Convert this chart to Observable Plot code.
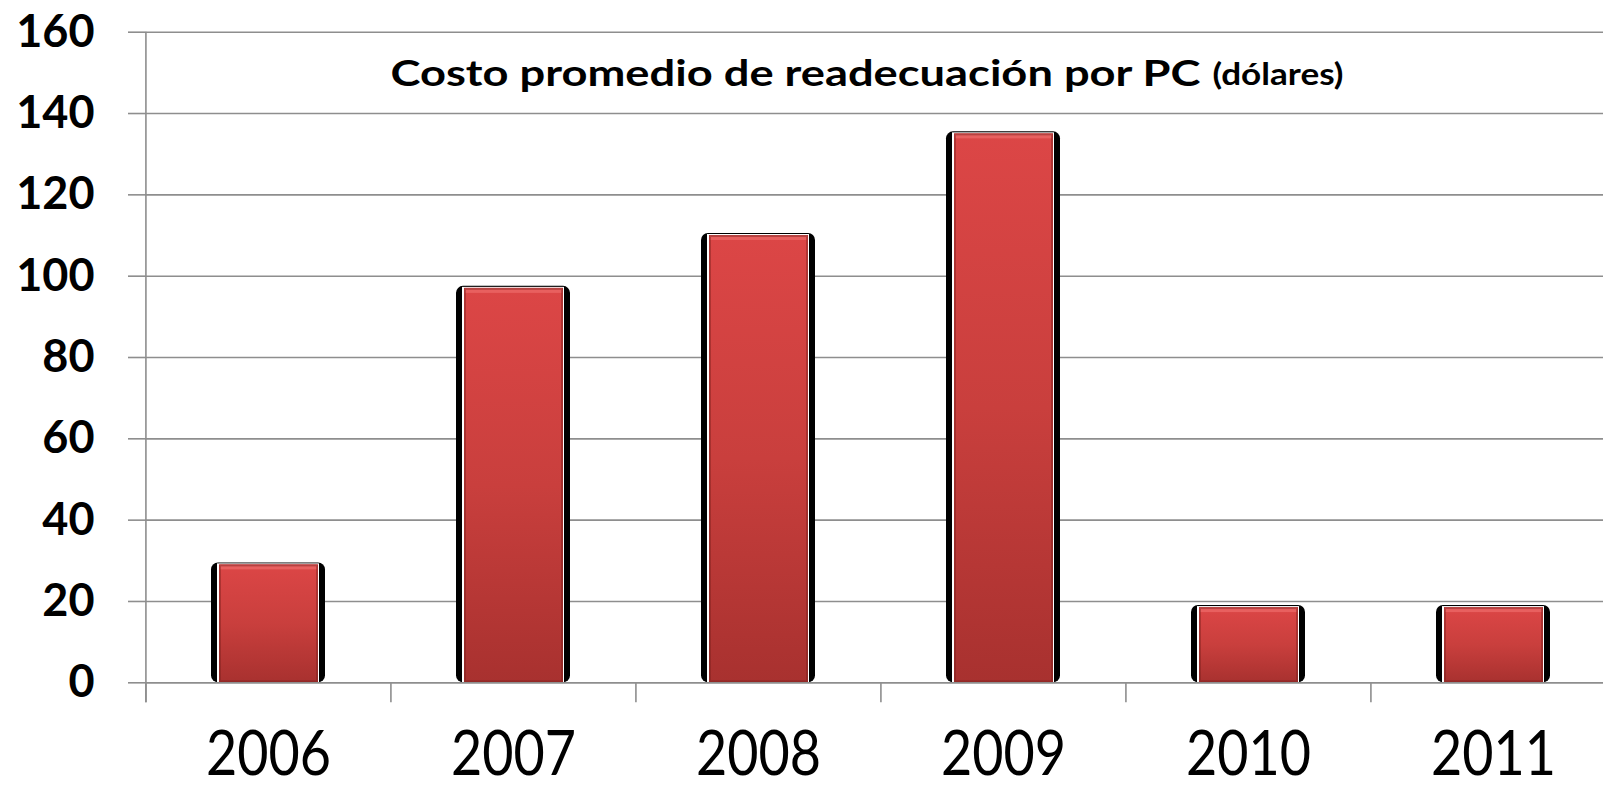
<!DOCTYPE html>
<html>
<head>
<meta charset="utf-8">
<script src="https://cdn.jsdelivr.net/npm/d3@7"></script>
<script src="https://cdn.jsdelivr.net/npm/@observablehq/plot@0.6"></script>
<style>
  html, body { margin: 0; padding: 0; background: #fff; overflow: hidden; }
  #chart svg { display: block; }
</style>
</head>
<body>
<div id="chart"></div>
<script>
// ---- data ----
const years = ["2006", "2007", "2008", "2009", "2010", "2011"];
const costs = [29, 97, 110, 135, 18.5, 18.5];
const yTicks = [0, 20, 40, 60, 80, 100, 120, 140, 160];
const titleMain = "Costo promedio de readecuación por PC";
const titleUnit = "(dólares)";

const data = years.map((year, i) => ({year, cost: costs[i]}));

const W = 1603, H = 787;
const mL = 145, mT = 31.7, mB = 104.7, mR = -13;
const step = (W - mR - mL) / years.length;
const grid = "#8e8e8e";

const chart = Plot.plot({
  width: W,
  height: H,
  marginLeft: mL,
  marginRight: mR,
  marginTop: mT,
  marginBottom: mB,
  style: {background: "#fff", fontFamily: "Lato, 'Open Sans', sans-serif", color: "#000", overflow: "hidden"},
  x: {type: "band", domain: years, paddingInner: 0.535, paddingOuter: 0.2675, label: null},
  y: {domain: [0, 160], label: null},
  marks: [
    // gridlines
    Plot.ruleY(yTicks, {stroke: grid, strokeWidth: 1.6}),
    // y axis ticks + labels
    Plot.axisY({ticks: yTicks, tickSize: 17, tickPadding: 34, fontSize: 45, fontWeight: "bold",
                stroke: grid, strokeWidth: 1.6, label: null, fill: "#000"}),
    // y axis line
    Plot.ruleX([years[0]], {x: d => d, dx: -step / 2, y1: 160, y2: 0, insetBottom: -20, stroke: grid, strokeWidth: 1.6}),
    // category separator ticks
    Plot.ruleX(years, {x: d => d, dx: -step / 2, y1: 0, y2: 0, insetBottom: -20, stroke: grid, strokeWidth: 1.6}),
    // x labels
    Plot.axisX({tickSize: 0, tickPadding: 48.5, fontSize: 62, fill: "#000", label: null}),
    // bar shadow
    Plot.barY(data, {x: "year", y: "cost", fill: "#000", insetTop: -2, rx: 7}),
    // white thin rim
    Plot.barY(data, {x: "year", y: "cost", fill: "#fff", insetLeft: 6, insetRight: 6, insetTop: -1}),
    // red body
    Plot.barY(data, {x: "year", y: "cost", fill: "url(#redGrad)", insetLeft: 8, insetRight: 7}),
    // bevel: top highlight
    Plot.rectY(data, {x: "year", y1: "cost", y2: "cost", fill: "#ec6a68", fillOpacity: 0.75, insetLeft: 9, insetRight: 8, insetBottom: -5}),
    // bevel: edges
    Plot.barY(data, {x: "year", y: "cost", fill: "none", stroke: "#7a1f1d", strokeOpacity: 0.45, strokeWidth: 2, insetLeft: 9, insetRight: 8, insetTop: 1, insetBottom: 1}),
    // baseline over bars
    Plot.ruleY([0], {stroke: grid, strokeWidth: 1.6}),
    // title
    Plot.text([titleMain], {text: d => d, frameAnchor: "top-left", textAnchor: "start", lineAnchor: "middle",
                            dx: 245, dy: 42, fontSize: 36, fontWeight: "bold", fill: "#000"}),
    Plot.text([titleUnit], {text: d => d, frameAnchor: "top-left", textAnchor: "start", lineAnchor: "middle",
                            dx: 1067, dy: 43.5, fontSize: 30, fontWeight: "bold", fill: "#000"})
  ]
});

// gradient definition
const svg = d3.select(chart);
const defs = svg.insert("defs", ":first-child");
const grad = defs.append("linearGradient").attr("id", "redGrad")
  .attr("x1", 0).attr("y1", 0).attr("x2", 0).attr("y2", 1);
grad.append("stop").attr("offset", "0%").attr("stop-color", "#dc4646");
grad.append("stop").attr("offset", "50%").attr("stop-color", "#c93f3d");
grad.append("stop").attr("offset", "100%").attr("stop-color", "#a8312f");

// text widths to match the reference's narrow face
svg.selectAll('g[aria-label="x-axis tick label"] text')
  .attr("textLength", 125).attr("lengthAdjust", "spacingAndGlyphs");
svg.selectAll('g[aria-label="text"] text').each(function() {
  const t = d3.select(this).text();
  if (t === titleMain) d3.select(this).attr("textLength", 810).attr("lengthAdjust", "spacingAndGlyphs");
  if (t === titleUnit) d3.select(this).attr("textLength", 131).attr("lengthAdjust", "spacingAndGlyphs");
});

document.getElementById("chart").appendChild(chart);
</script>
</body>
</html>
